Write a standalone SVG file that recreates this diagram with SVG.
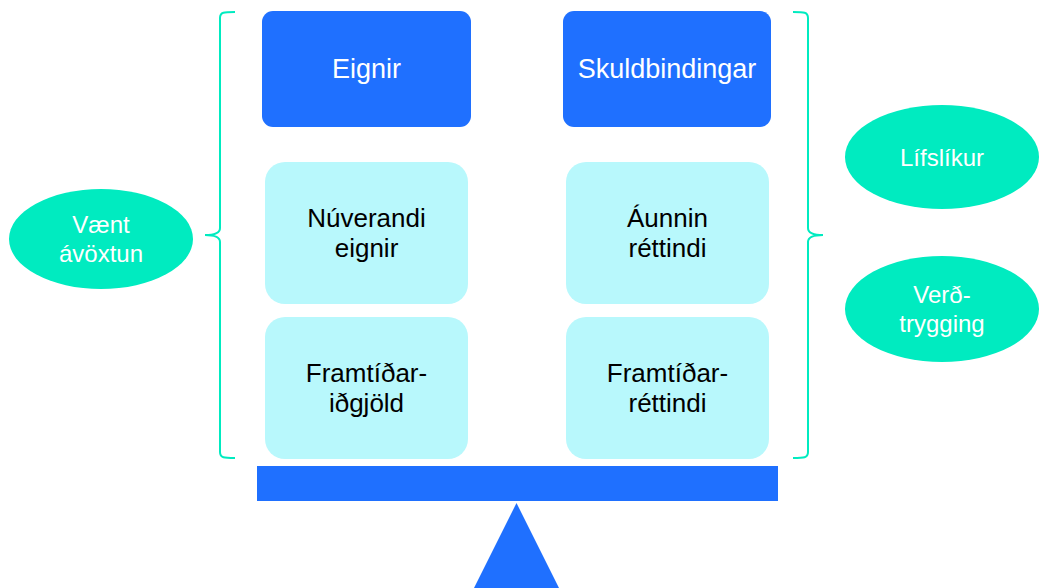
<svg xmlns="http://www.w3.org/2000/svg" width="1042" height="588" viewBox="0 0 1042 588">
<style>
.dark{fill:#1F70FF}
.light{fill:#B8F8FC}
.oval{fill:#00EBC0}
.br{fill:none;stroke:#00EBC0;stroke-width:2}
text{font-family:"Liberation Sans",Arial,sans-serif;text-anchor:middle}
.tw{fill:#FFFFFF;font-size:27px}
.tb{fill:#000000;font-size:26px}
.to{fill:#FFFFFF;font-size:24px}
</style>
<rect width="1042" height="588" fill="#FFFFFF"/>
<g id="connectors">
<path class="br" d="M235,12 C224,12 220,12 220,18 L220,228 C220,233 215,235 205,235 C215,235 220,237 220,242 L220,452 C220,458 224,458 235,458"/>
<path class="br" d="M793,12 C804,12 808,12 808,18 L808,228 C808,233 813,235 823,235 C813,235 808,237 808,242 L808,452 C808,458 804,458 793,458"/>
</g>
<g id="eignir"><rect class="dark" x="262" y="11" width="209" height="116" rx="11"/><text class="tw" x="366.5" y="78">Eignir</text></g>
<g id="skuldbindingar"><rect class="dark" x="563" y="11" width="208" height="116" rx="11"/><text class="tw" x="667" y="78">Skuldbindingar</text></g>
<g id="nuverandi"><rect class="light" x="265" y="162" width="203" height="142" rx="20"/><text class="tb" x="366.5" y="227">Núverandi</text><text class="tb" x="366.5" y="257">eignir</text></g>
<g id="aunnin"><rect class="light" x="566" y="162" width="203" height="142" rx="20"/><text class="tb" x="667.5" y="227">Áunnin</text><text class="tb" x="667.5" y="257">réttindi</text></g>
<g id="framtidar-idgjold"><rect class="light" x="265" y="317" width="203" height="142" rx="20"/><text class="tb" x="366.5" y="382">Framtíðar-</text><text class="tb" x="366.5" y="412">iðgjöld</text></g>
<g id="framtidar-rettindi"><rect class="light" x="566" y="317" width="203" height="142" rx="20"/><text class="tb" x="667.5" y="382">Framtíðar-</text><text class="tb" x="667.5" y="412">réttindi</text></g>
<g id="vaent"><ellipse class="oval" cx="101" cy="239" rx="92" ry="50"/><text class="to" x="101" y="233">Vænt</text><text class="to" x="101" y="262">ávöxtun</text></g>
<g id="lifslikur"><ellipse class="oval" cx="942" cy="157" rx="97" ry="52"/><text class="to" x="942" y="166">Lífslíkur</text></g>
<g id="verdtrygging"><ellipse class="oval" cx="942" cy="309" rx="97" ry="53"/><text class="to" x="942" y="303">Verð-</text><text class="to" x="942" y="332">trygging</text></g>
<g id="scale">
<rect class="dark" x="257" y="466" width="521" height="35"/>
<polygon class="dark" points="516.5,503 559,588 474,588"/>
</g>
</svg>
